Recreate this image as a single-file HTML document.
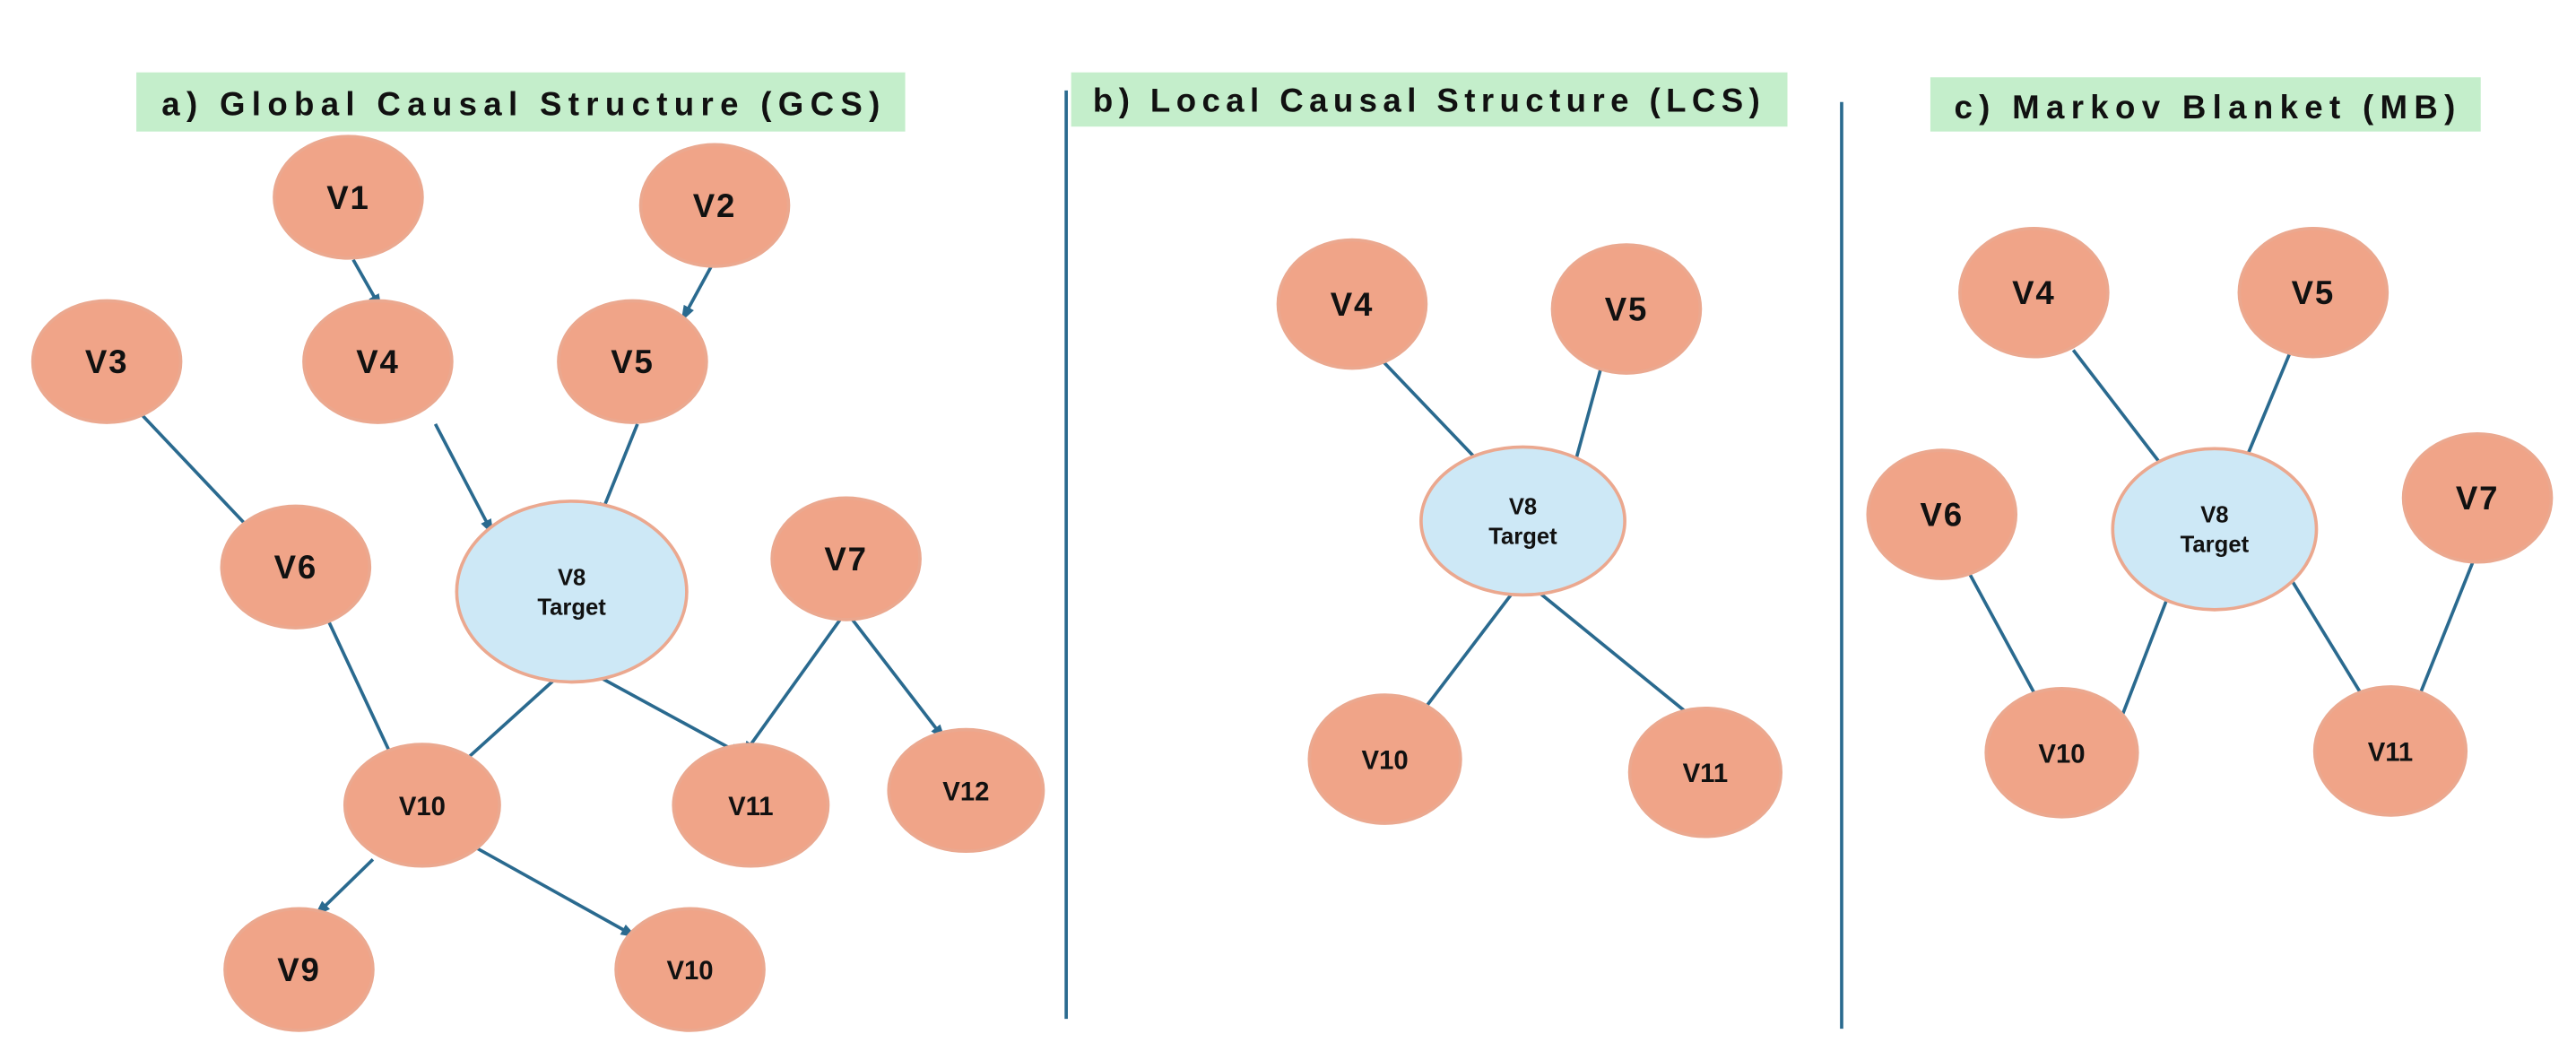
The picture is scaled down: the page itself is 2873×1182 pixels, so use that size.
<!DOCTYPE html>
<html><head><meta charset="utf-8"><style>html,body{margin:0;padding:0;background:#fff}svg{display:block}</style></head>
<body>
<svg width="2873" height="1182" viewBox="0 0 1568 645" xmlns="http://www.w3.org/2000/svg" font-family="Liberation Sans, sans-serif" font-weight="bold">
<defs>
<marker id="a" markerWidth="10" markerHeight="10" refX="9" refY="5" orient="auto" markerUnits="userSpaceOnUse"><path d="M0,1.5 L10,5 L0,8.5 z" fill="#2a6a8f"/></marker>
</defs>
<rect width="1568" height="645" fill="#fff"/>
<!-- titles -->
<rect x="83" y="44" width="468" height="36" fill="#c4eecb"/>
<text x="319" y="70" font-size="20" letter-spacing="4" text-anchor="middle" fill="#111">a) Global Causal Structure (GCS)</text>
<rect x="652" y="44" width="436" height="33" fill="#c4eecb"/>
<text x="870" y="68" font-size="20" letter-spacing="3.5" text-anchor="middle" fill="#111">b) Local Causal Structure (LCS)</text>
<rect x="1175" y="47" width="335" height="33" fill="#c4eecb"/>
<text x="1344" y="72" font-size="20" letter-spacing="4" text-anchor="middle" fill="#111">c) Markov Blanket (MB)</text>
<!-- dividers -->
<line x1="649" y1="55" x2="649" y2="620" stroke="#2a6a8f" stroke-width="2"/>
<line x1="1121" y1="62" x2="1121" y2="626" stroke="#2a6a8f" stroke-width="2"/>
<!-- edges -->
<g stroke="#2a6a8f" stroke-width="2" fill="none">
<g marker-end="url(#a)">
<line x1="215" y1="158" x2="232" y2="188"/>
<line x1="433" y1="162" x2="415" y2="195"/>
<line x1="86" y1="252" x2="156" y2="326"/>
<line x1="265" y1="258" x2="300" y2="325"/>
<line x1="388" y1="258" x2="365" y2="315"/>
<line x1="200" y1="378" x2="243" y2="470"/>
<line x1="347" y1="405" x2="275" y2="470"/>
<line x1="352" y1="405" x2="453" y2="460"/>
<line x1="515" y1="372" x2="452" y2="460"/>
<line x1="515" y1="372" x2="575" y2="450"/>
<line x1="227" y1="523" x2="192" y2="557"/>
<line x1="290" y1="516" x2="387" y2="570"/>
<line x1="840" y1="218" x2="905" y2="286"/>
<line x1="975" y1="222" x2="957" y2="288"/>
<line x1="925" y1="355" x2="862" y2="438"/>
<line x1="930" y1="355" x2="1037" y2="442"/>
</g>
<line x1="1262" y1="213" x2="1315" y2="282"/>
<line x1="1395" y1="212" x2="1368" y2="277"/>
<line x1="1195" y1="342" x2="1240" y2="425"/>
<line x1="1320" y1="362" x2="1290" y2="440"/>
<line x1="1390" y1="345" x2="1442" y2="430"/>
<line x1="1508" y1="335" x2="1470" y2="430"/>
</g>
<!-- nodes -->
<g fill="#f0a488" stroke="#eba88f" stroke-width="2">
<ellipse cx="212" cy="120" rx="45" ry="37"/>
<ellipse cx="435" cy="125" rx="45" ry="37"/>
<ellipse cx="65" cy="220" rx="45" ry="37"/>
<ellipse cx="230" cy="220" rx="45" ry="37"/>
<ellipse cx="385" cy="220" rx="45" ry="37"/>
<ellipse cx="180" cy="345" rx="45" ry="37"/>
<ellipse cx="515" cy="340" rx="45" ry="37"/>
<ellipse cx="257" cy="490" rx="47" ry="37"/>
<ellipse cx="457" cy="490" rx="47" ry="37"/>
<ellipse cx="588" cy="481" rx="47" ry="37"/>
<ellipse cx="182" cy="590" rx="45" ry="37"/>
<ellipse cx="420" cy="590" rx="45" ry="37"/>
<ellipse cx="823" cy="185" rx="45" ry="39"/>
<ellipse cx="990" cy="188" rx="45" ry="39"/>
<ellipse cx="843" cy="462" rx="46" ry="39"/>
<ellipse cx="1038" cy="470" rx="46" ry="39"/>
<ellipse cx="1238" cy="178" rx="45" ry="39"/>
<ellipse cx="1408" cy="178" rx="45" ry="39"/>
<ellipse cx="1182" cy="313" rx="45" ry="39"/>
<ellipse cx="1508" cy="303" rx="45" ry="39"/>
<ellipse cx="1255" cy="458" rx="46" ry="39"/>
<ellipse cx="1455" cy="457" rx="46" ry="39"/>
</g>
<g fill="#cde8f6" stroke="#eba88f" stroke-width="2">
<ellipse cx="348" cy="360" rx="70" ry="55"/>
<ellipse cx="927" cy="317" rx="62" ry="45"/>
<ellipse cx="1348" cy="322" rx="62" ry="49"/>
</g>
<g font-size="20" letter-spacing="1" text-anchor="middle" fill="#111">
<text x="212" y="127">V1</text><text x="435" y="132">V2</text>
<text x="65" y="227">V3</text><text x="230" y="227">V4</text><text x="385" y="227">V5</text>
<text x="180" y="352">V6</text><text x="515" y="347">V7</text>
<text x="823" y="192">V4</text><text x="990" y="195">V5</text>
<text x="1238" y="185">V4</text><text x="1408" y="185">V5</text>
<text x="1182" y="320">V6</text><text x="1508" y="310">V7</text>
<text x="182" y="597">V9</text>
</g>
<g font-size="16" text-anchor="middle" fill="#111">
<text x="257" y="496">V10</text><text x="457" y="496">V11</text><text x="588" y="487">V12</text>
<text x="420" y="596">V10</text>
<text x="843" y="468">V10</text><text x="1038" y="476">V11</text>
<text x="1255" y="464">V10</text><text x="1455" y="463">V11</text>
</g>
<g font-size="14" text-anchor="middle" fill="#111">
<text x="348" y="356">V8</text><text x="348" y="374">Target</text>
<text x="927" y="313">V8</text><text x="927" y="331">Target</text>
<text x="1348" y="318">V8</text><text x="1348" y="336">Target</text>
</g>
</svg>
</body></html>
